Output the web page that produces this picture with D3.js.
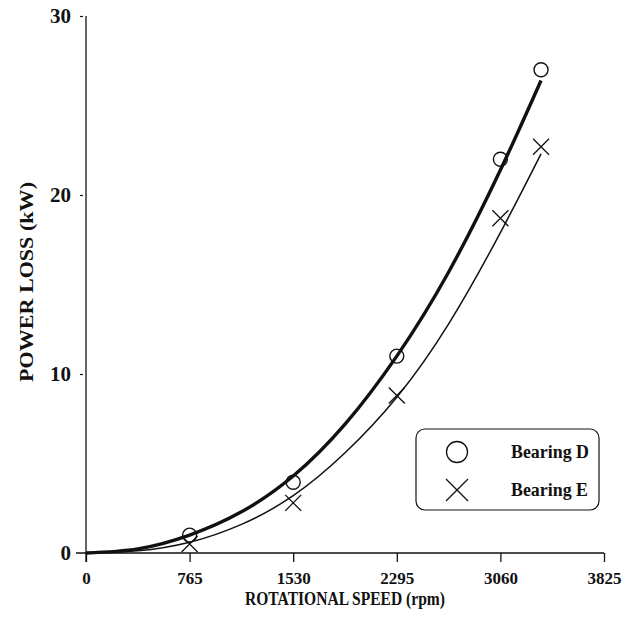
<!DOCTYPE html>
<html>
<head>
<meta charset="utf-8">
<script src="https://cdn.jsdelivr.net/npm/d3@7"></script>
<style>
  body { margin: 0; background: #fff; }
  svg text { font-family: "Liberation Serif", "DejaVu Serif", serif; font-weight: bold; fill: #111; }
</style>
</head>
<body>
<svg id="chart" width="636" height="621"></svg>
<script>
// x ticks (rpm) and y ticks (kW)
const xTicks = [0, 765, 1530, 2295, 3060, 3825];
const yTicks = [0, 10, 20, 30];

// measured points
const speedPts = [765, 1530, 2295, 3060, 3360];
const bearingD = [1.0, 3.95, 11.0, 22.0, 27.0];
const bearingE = [0.5, 2.8, 8.8, 18.7, 22.7];

// fitted curves
const fitSpeed = [0, 383, 765, 1148, 1530, 1913, 2295, 2678, 3060, 3360];
const fitD = [0, 0.23, 1.0, 2.3, 4.3, 7.2, 11.0, 15.7, 21.4, 26.4];
const fitE = [0, 0.12, 0.6, 1.6, 3.2, 5.6, 8.7, 12.8, 17.9, 22.3];

const ink = "#111";
let svg = d3.select("#chart");

let x = d3.scaleLinear().domain([0, 3825]).range([86, 604]);
let y = d3.scaleLinear().domain([0, 30]).range([553, 16]);

// x axis
let xAxis = svg.append("g")
    .attr("transform", "translate(0," + y(0) + ")")
    .call(d3.axisBottom(x).tickValues(xTicks).tickFormat(d3.format("d"))
        .tickSize(9).tickSizeOuter(0).tickPadding(10));
xAxis.select(".domain").remove();
xAxis.append("line")
    .attr("x1", 76).attr("x2", x(3825))
    .attr("stroke", ink).attr("stroke-width", 1.3);
xAxis.selectAll(".tick line").attr("stroke", ink).attr("stroke-width", 1.3);
xAxis.selectAll(".tick text").attr("font-size", 17).attr("fill", ink);
// zero tick crosses the axis
xAxis.append("line")
    .attr("x1", x(0)).attr("x2", x(0)).attr("y1", -14).attr("y2", 9)
    .attr("stroke", ink).attr("stroke-width", 1.3);

// y axis
let yAxis = svg.append("g")
    .attr("transform", "translate(" + x(0) + ",0)")
    .call(d3.axisLeft(y).tickValues(yTicks).tickSize(6).tickSizeOuter(0).tickPadding(9));
yAxis.select(".domain").remove();
yAxis.append("line")
    .attr("y1", y(30)).attr("y2", y(0) - 14)
    .attr("stroke", ink).attr("stroke-width", 1.3);
yAxis.selectAll(".tick line").attr("stroke", ink).attr("stroke-width", 1.2)
    .attr("x1", -3);
yAxis.selectAll(".tick").filter(d => d === 0).select("line").remove();
yAxis.selectAll(".tick text").attr("font-size", 21).attr("fill", ink);

// axis titles
svg.append("text")
    .attr("x", 345).attr("y", 605)
    .attr("text-anchor", "middle")
    .attr("font-size", 18)
    .attr("textLength", 200)
    .attr("lengthAdjust", "spacingAndGlyphs")
    .text("ROTATIONAL SPEED (rpm)");

svg.append("text")
    .attr("transform", "translate(33,282) rotate(-90)")
    .attr("text-anchor", "middle")
    .attr("font-size", 19)
    .attr("textLength", 200)
    .attr("lengthAdjust", "spacingAndGlyphs")
    .text("POWER LOSS  (kW)");

// fitted curves
let line = d3.line()
    .x(d => x(d[0]))
    .y(d => y(d[1]))
    .curve(d3.curveNatural);

svg.append("path")
    .datum(fitSpeed.map((s, i) => [s, fitD[i]]))
    .attr("d", line)
    .attr("fill", "none")
    .attr("stroke", ink)
    .attr("stroke-width", 3.4);

svg.append("path")
    .datum(fitSpeed.map((s, i) => [s, fitE[i]]))
    .attr("d", line)
    .attr("fill", "none")
    .attr("stroke", ink)
    .attr("stroke-width", 1.5);

// markers
function cross(g, size) {
    g.append("path")
        .attr("d", "M" + (-size) + "," + (-size) + "L" + size + "," + size +
            "M" + (-size) + "," + size + "L" + size + "," + (-size))
        .attr("stroke", ink)
        .attr("stroke-width", 1.3)
        .attr("fill", "none");
}

svg.append("g").selectAll("circle")
    .data(speedPts.map((s, i) => [s, bearingD[i]]))
    .enter().append("circle")
    .attr("cx", d => x(d[0]))
    .attr("cy", d => y(d[1]))
    .attr("r", 7)
    .attr("fill", "none")
    .attr("stroke", ink)
    .attr("stroke-width", 1.4);

svg.append("g").selectAll("g")
    .data(speedPts.map((s, i) => [s, bearingE[i]]))
    .enter().append("g")
    .attr("transform", d => "translate(" + x(d[0]) + "," + y(d[1]) + ")")
    .each(function () { cross(d3.select(this), 8); });

// legend
let legend = svg.append("g").attr("transform", "translate(416,429)");
legend.append("rect")
    .attr("width", 183).attr("height", 81)
    .attr("rx", 9).attr("ry", 9)
    .attr("fill", "#fff")
    .attr("stroke", ink)
    .attr("stroke-width", 1.2);
legend.append("circle")
    .attr("cx", 41).attr("cy", 23).attr("r", 10.5)
    .attr("fill", "none").attr("stroke", ink).attr("stroke-width", 1.3);
cross(legend.append("g").attr("transform", "translate(41,61)"), 11);
legend.append("text").attr("x", 95).attr("y", 29).attr("font-size", 18)
    .attr("textLength", 78).attr("lengthAdjust", "spacingAndGlyphs").text("Bearing D");
legend.append("text").attr("x", 95).attr("y", 67).attr("font-size", 18)
    .attr("textLength", 77).attr("lengthAdjust", "spacingAndGlyphs").text("Bearing E");
</script>
</body>
</html>
